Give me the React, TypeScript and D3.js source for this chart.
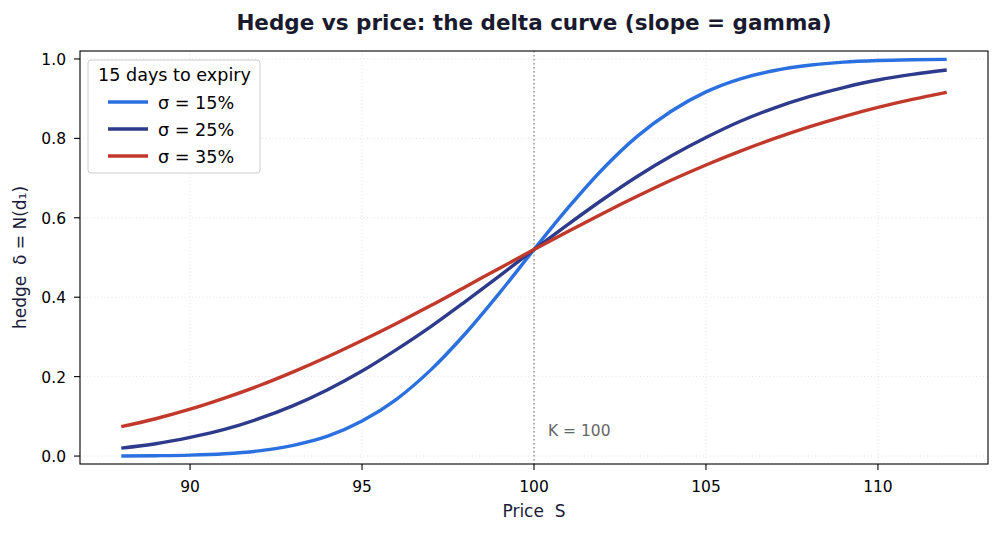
import React from "react";
import * as d3 from "d3";

// prices, one per unit
const prices = [88, 89, 90, 91, 92, 93, 94, 95, 96, 97, 98, 99, 100, 101, 102, 103, 104, 105, 106, 107, 108, 109, 110, 111, 112];

// delta for each volatility
const delta15 = [0.0002, 0.0009, 0.0023, 0.0058, 0.013, 0.027, 0.05, 0.088, 0.143, 0.217, 0.308, 0.411, 0.52, 0.626, 0.723, 0.805, 0.869, 0.917, 0.95, 0.971, 0.984, 0.992, 0.996, 0.998, 0.999];
const delta25 = [0.02, 0.031, 0.047, 0.067, 0.094, 0.127, 0.167, 0.214, 0.268, 0.326, 0.389, 0.454, 0.52, 0.584, 0.646, 0.704, 0.756, 0.802, 0.843, 0.877, 0.905, 0.928, 0.947, 0.961, 0.972];
const delta35 = [0.074, 0.094, 0.118, 0.146, 0.177, 0.212, 0.25, 0.291, 0.334, 0.379, 0.426, 0.473, 0.52, 0.566, 0.611, 0.654, 0.695, 0.733, 0.768, 0.8, 0.829, 0.855, 0.878, 0.898, 0.916];

const seriesLabels = ["σ = 15%", "σ = 25%", "σ = 35%"];
const xTicks = [90, 95, 100, 105, 110];
const yTicks = [0, 0.2, 0.4, 0.6, 0.8, 1.0];
const strike = 100;

const W = 1001;
const H = 533;
const margin = { left: 80, right: 13, top: 51, bottom: 69 };
const colors = ["#2b70e0", "#2e3a8c", "#c0392b"];
const font = "DejaVu Sans, sans-serif";

export default function App() {
  const x = d3.scaleLinear().domain([86.8, 113.2]).range([margin.left, W - margin.right]);
  const y = d3.scaleLinear().domain([-0.02, 1.02]).range([H - margin.bottom, margin.top]);

  const line = d3
    .line<number>()
    .x((_, i) => x(prices[i]))
    .y((d) => y(d))
    .curve(d3.curveMonotoneX);

  const all = [delta15, delta25, delta35];
  const x0 = margin.left;
  const x1 = W - margin.right;
  const y0 = H - margin.bottom;
  const y1 = margin.top;

  return (
    <div style={{ position: "absolute", left: 0, top: 0 }}>
      <svg width={W} height={H} style={{ display: "block", background: "#fff" }} fontFamily={font}>
        {/* grid */}
        {xTicks.map((t) => (
          <line key={"gx" + t} x1={x(t)} x2={x(t)} y1={y1} y2={y0} stroke="#ddd" strokeWidth={0.8} strokeDasharray="1,2.5" />
        ))}
        {yTicks.map((t) => (
          <line key={"gy" + t} x1={x0} x2={x1} y1={y(t)} y2={y(t)} stroke="#ddd" strokeWidth={0.8} strokeDasharray="1,2.5" />
        ))}

        {/* strike */}
        <line x1={x(strike)} x2={x(strike)} y1={y1} y2={y0} stroke="#888" strokeWidth={1.3} strokeDasharray="1.5,2.5" />
        <text x={x(strike) + 14} y={y(0.05)} fontSize={15.5} fill="#666">
          K = 100
        </text>

        {/* curves */}
        {all.map((s, i) => (
          <path key={i} d={line(s) || ""} fill="none" stroke={colors[i]} strokeWidth={3.4} />
        ))}

        {/* frame */}
        <rect x={x0} y={y1} width={x1 - x0} height={y0 - y1} fill="none" stroke="#000" strokeWidth={1.1} />

        {/* x axis */}
        {xTicks.map((t) => (
          <g key={"xt" + t}>
            <line x1={x(t)} x2={x(t)} y1={y0} y2={y0 + 6} stroke="#000" strokeWidth={1.1} />
            <text x={x(t)} y={492} textAnchor="middle" fontSize={15.5} fill="#000">
              {t}
            </text>
          </g>
        ))}
        {/* y axis */}
        {yTicks.map((t) => (
          <g key={"yt" + t}>
            <line x1={x0 - 6} x2={x0} y1={y(t)} y2={y(t)} stroke="#000" strokeWidth={1.1} />
            <text x={x0 - 14} y={y(t) + 6} textAnchor="end" fontSize={15.5} fill="#000">
              {t.toFixed(1)}
            </text>
          </g>
        ))}

        <text x={(x0 + x1) / 2} y={517} textAnchor="middle" fontSize={17} fill="#1a1a3a" style={{ whiteSpace: "pre" }}>
          {"Price  S"}
        </text>
        <text
          transform={`translate(26,${(y0 + y1) / 2}) rotate(-90)`}
          textAnchor="middle"
          fontSize={17}
          fill="#1a1a3a"
          style={{ whiteSpace: "pre" }}
        >
          {"hedge  δ = N(d₁)"}
        </text>

        <text x={(x0 + x1) / 2} y={30} textAnchor="middle" fontSize={21.5} fontWeight="bold" fill="#1a1a2e">
          Hedge vs price: the delta curve (slope = gamma)
        </text>

        {/* legend */}
        <g transform="translate(88,60)">
          <rect x={0} y={0} width={172} height={113} rx={3} fill="#fff" fillOpacity={0.85} stroke="#ccc" />
          <text x={86.5} y={20.5} textAnchor="middle" fontSize={17.6} fill="#000">
            15 days to expiry
          </text>
          {seriesLabels.map((lab, i) => (
            <g key={lab} transform={`translate(0,${42 + i * 27})`}>
              <line x1={20} x2={60} y1={0} y2={0} stroke={colors[i]} strokeWidth={3.4} />
              <text x={70} y={6.5} fontSize={17.6} fill="#000">
                {lab}
              </text>
            </g>
          ))}
        </g>
      </svg>
    </div>
  );
}
